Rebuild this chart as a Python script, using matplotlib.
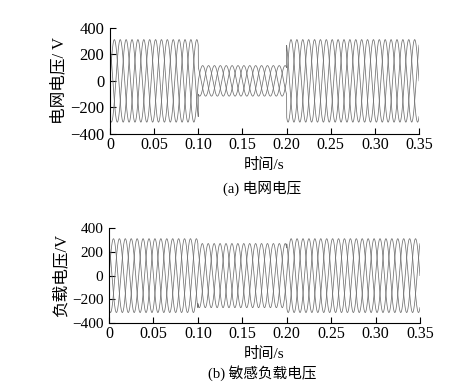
import numpy as np
import matplotlib
matplotlib.use("Agg")
import matplotlib.pyplot as plt

plt.rcParams['font.family'] = ['Liberation Serif', 'Noto Sans CJK SC']
plt.rcParams['axes.unicode_minus'] = True

# segment boundaries (s) and peak phase amplitude (V) in each segment
t_edges = [0.0, 0.10, 0.20, 0.35]
grid_amp = [311, 115, 311]
load_amp = [311, 270, 311]
freq = 50.0
phase_shift_deg = [0, -120, 120]

x_ticks = [0, 0.05, 0.10, 0.15, 0.20, 0.25, 0.30, 0.35]
x_ticklabels = ['0', '0.05', '0.10', '0.15', '0.20', '0.25', '0.30', '0.35']
y_ticks = [-400, -200, 0, 200, 400]


def three_phase(amps):
    t = np.linspace(t_edges[0], t_edges[-1], 7001)
    a = np.zeros_like(t)
    for i in range(len(amps)):
        m = (t >= t_edges[i]) & (t <= t_edges[i + 1])
        a[m] = amps[i]
    waves = [a * np.sin(2 * np.pi * freq * t + np.deg2rad(p)) for p in phase_shift_deg]
    return t, waves


def style_axes(ax, ylabel, xlabel, ysize):
    ax.set_xlim(0, 0.35)
    ax.set_ylim(-400, 400)
    ax.set_xticks(x_ticks)
    ax.set_xticklabels(x_ticklabels)
    ax.set_yticks(y_ticks)
    ax.spines['top'].set_visible(False)
    ax.spines['right'].set_visible(False)
    ax.tick_params(direction='in', length=4, pad=2)
    ax.tick_params(axis='x', labelsize=11.5)
    ax.tick_params(axis='y', labelsize=ysize, pad=4)
    ax.set_ylabel(ylabel, fontsize=12, labelpad=2)
    ax.set_xlabel(xlabel, fontsize=11, labelpad=4)


fig = plt.figure(figsize=(4.6, 3.86), dpi=100)

ax1 = fig.add_axes([0.239, 0.653, 0.672, 0.275])
t, waves = three_phase(grid_amp)
for w in waves:
    ax1.plot(t, w, color='#707070', lw=0.55)
style_axes(ax1, '电网电压/ V', '时间/s', 12)
fig.text(0.57, 0.513, '(a) 电网电压', ha='center', va='center', fontsize=10.5)

ax2 = fig.add_axes([0.237, 0.163, 0.676, 0.246])
t, waves = three_phase(load_amp)
for w in waves:
    ax2.plot(t, w, color='#707070', lw=0.55)
style_axes(ax2, '负载电压/V', '时间/s', 11)
fig.text(0.57, 0.034, '(b) 敏感负载电压', ha='center', va='center', fontsize=10.5)

fig.savefig('out.png', dpi=100)
